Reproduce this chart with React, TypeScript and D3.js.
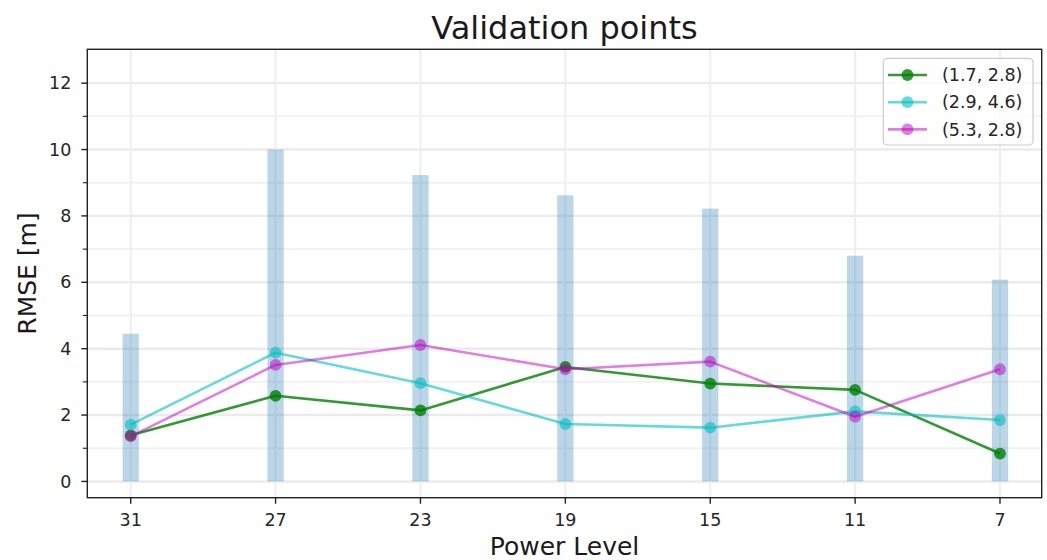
import React from "react";
import * as d3 from "d3";

const powerLevels = ["31", "27", "23", "19", "15", "11", "7"];
const barValues = [4.45, 10.0, 9.23, 8.62, 8.22, 6.8, 6.08];
const seriesNames = ["(1.7, 2.8)", "(2.9, 4.6)", "(5.3, 2.8)"];
const greenValues = [1.39, 2.58, 2.14, 3.45, 2.95, 2.76, 0.84];
const cyanValues = [1.71, 3.88, 2.96, 1.73, 1.62, 2.11, 1.85];
const magentaValues = [1.36, 3.51, 4.11, 3.38, 3.61, 1.95, 3.38];
const yMajorTicks = [0, 2, 4, 6, 8, 10, 12];
const yMinorTicks = [1, 3, 5, 7, 9, 11];

const W = 1047;
const H = 560;
const L = 87.3, R = 1041.7, T = 49.3, B = 497.7;
const FONT = "DejaVu Sans, sans-serif";

export default function App() {
  const x = d3.scalePoint<string>().domain(powerLevels).range([130.7, 1000]).padding(0);
  const y = d3.scaleLinear().domain([-0.49, 13.02]).range([B, T]);
  const barW = 16.3;

  const series = [
    { name: seriesNames[0], values: greenValues, color: "#008000", alpha: 0.8 },
    { name: seriesNames[1], values: cyanValues, color: "#00bfbf", alpha: 0.6 },
    { name: seriesNames[2], values: magentaValues, color: "#bf00bf", alpha: 0.5 },
  ];

  const line = d3
    .line<number>()
    .x((_, i) => x(powerLevels[i]) as number)
    .y((d) => y(d));

  const lw = 2.6;
  const mr = 5.9;

  return (
    <svg width={W} height={H} style={{ position: "absolute", left: 0, top: 0, background: "#fff" }}>
      <rect x={0} y={0} width={W} height={H} fill="#fff" />
      {/* grid */}
      {yMinorTicks.map((t) => (
        <line key={"gm" + t} x1={L} x2={R} y1={y(t)} y2={y(t)} stroke="#f2f2f2" strokeWidth={2} />
      ))}
      {yMajorTicks.map((t) => (
        <line key={"gM" + t} x1={L} x2={R} y1={y(t)} y2={y(t)} stroke="#ebebeb" strokeWidth={2.4} />
      ))}
      {powerLevels.map((p) => (
        <line key={"gx" + p} x1={x(p)} x2={x(p)} y1={T} y2={B} stroke="#efefef" strokeWidth={2.2} />
      ))}
      {/* bars */}
      {powerLevels.map((p, i) => (
        <rect
          key={"b" + p}
          x={(x(p) as number) - barW / 2}
          y={y(barValues[i])}
          width={barW}
          height={y(0) - y(barValues[i])}
          fill="#1f77b4"
          fillOpacity={0.3}
        />
      ))}
      {/* lines */}
      {series.map((s) => (
        <g key={s.name}>
          <path d={line(s.values) || ""} fill="none" stroke={s.color} strokeWidth={lw} strokeOpacity={s.alpha} strokeLinejoin="round" />
          {s.values.map((v, i) => (
            <circle key={i} cx={x(powerLevels[i])} cy={y(v)} r={mr} fill={s.color} fillOpacity={s.alpha} />
          ))}
        </g>
      ))}
      {/* frame */}
      <rect x={L} y={T} width={R - L} height={B - T} fill="none" stroke="#222" strokeWidth={1.4} />
      {/* y ticks */}
      {yMajorTicks.map((t) => (
        <g key={"yt" + t}>
          <line x1={L - 6} x2={L} y1={y(t)} y2={y(t)} stroke="#222" strokeWidth={1.4} />
          <text x={L - 16} y={y(t)} dy="0.35em" textAnchor="end" fontFamily={FONT} fontSize={17.5} fill="#262626">
            {t}
          </text>
        </g>
      ))}
      {yMinorTicks.map((t) => (
        <line key={"ymt" + t} x1={L - 4.5} x2={L} y1={y(t)} y2={y(t)} stroke="#222" strokeWidth={1.1} />
      ))}
      {/* x ticks */}
      {powerLevels.map((p) => (
        <g key={"xt" + p}>
          <line x1={x(p)} x2={x(p)} y1={B} y2={B + 6} stroke="#222" strokeWidth={1.4} />
          <text x={x(p)} y={526} textAnchor="middle" fontFamily={FONT} fontSize={17.5} fill="#262626">
            {p}
          </text>
        </g>
      ))}
      {/* labels */}
      <text x={564.5} y={39} textAnchor="middle" fontFamily={FONT} fontSize={32} fill="#1a1a1a">
        Validation points
      </text>
      <text x={564.5} y={555} textAnchor="middle" fontFamily={FONT} fontSize={25} fill="#1a1a1a">
        Power Level
      </text>
      <text
        transform={`translate(36, ${(T + B) / 2}) rotate(-90)`}
        textAnchor="middle"
        fontFamily={FONT}
        fontSize={25}
        fill="#1a1a1a"
      >
        RMSE [m]
      </text>
      {/* legend */}
      <rect x={883.3} y={58.3} width={149.7} height={86.7} rx={4} fill="#fff" fillOpacity={0.8} stroke="#cccccc" strokeWidth={1.2} />
      {series.map((s, i) => {
        const ly = 75 + i * 27.2;
        return (
          <g key={"lg" + i}>
            <line x1={888} x2={927} y1={ly} y2={ly} stroke={s.color} strokeOpacity={s.alpha} strokeWidth={lw} />
            <circle cx={907.5} cy={ly} r={mr} fill={s.color} fillOpacity={s.alpha} />
            <text x={942} y={ly} dy="0.35em" fontFamily={FONT} fontSize={17.5} fill="#262626">
              {s.name}
            </text>
          </g>
        );
      })}
    </svg>
  );
}
